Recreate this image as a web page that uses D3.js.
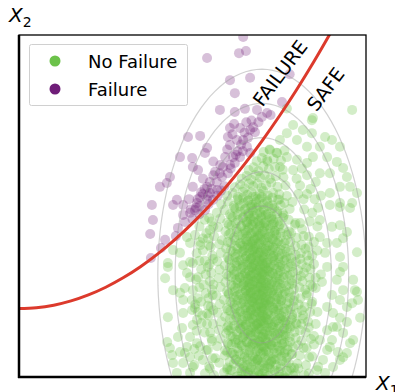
<!DOCTYPE html>
<html><head><meta charset="utf-8">
<script src="https://cdn.jsdelivr.net/npm/d3@7"></script>
<style>html,body{margin:0;padding:0;background:#fff;}svg{display:block;font-family:"DejaVu Sans",sans-serif;}</style>
</head><body><svg id="chart" width="395" height="392"></svg>
<script>
// Samples in the safe region (X1, X2): dense core of the cloud
const safeCore = [
[5.88,-0.1],[6.18,-0.2],[6.36,-0.06],[6.52,-0.17],[6.71,-0.11],[6.86,-0.22],[6.99,-0.08],[7.13,-0.15],[7.29,-0.19],[7.44,-0.09],[7.62,-0.04],[7.83,-0.16],[8.08,-0.12],[6.95,-0.02],
[5.62,0.05],[5.91,0.13],[6.08,0.2],[6.27,0.01],[6.41,0.16],[6.53,0.08],[6.66,0.22],[6.77,0.03],[6.9,0.17],[7.01,0.1],[7.11,0.0],[7.24,0.24],[7.36,0.07],[7.49,0.15],[7.63,0.02],[7.79,0.19],[7.96,0.11],[8.22,0.06],[6.6,0.12],[7.07,0.25],
[5.48,0.31],[5.77,0.42],[6.01,0.28],[6.19,0.39],[6.34,0.45],[6.47,0.3],[6.58,0.36],[6.7,0.27],[6.83,0.44],[6.94,0.33],[7.04,0.41],[7.16,0.29],[7.28,0.47],[7.41,0.35],[7.54,0.31],[7.69,0.43],[7.84,0.26],[8.02,0.39],[8.27,0.34],[6.88,0.49],[7.21,0.37],[6.43,0.24],
[5.66,0.55],[5.93,0.63],[6.1,0.7],[6.24,0.52],[6.37,0.66],[6.5,0.58],[6.63,0.72],[6.74,0.6],[6.86,0.5],[6.97,0.68],[7.09,0.57],[7.19,0.64],[7.31,0.53],[7.44,0.71],[7.57,0.6],[7.71,0.56],[7.87,0.67],[8.09,0.63],[8.36,0.58],[6.57,0.49],[7.03,0.74],[7.37,0.51],[6.2,0.65],[7.64,0.69],
[5.44,0.8],[5.71,0.9],[5.94,0.78],[6.13,0.95],[6.29,0.84],[6.41,0.92],[6.54,0.79],[6.67,0.88],[6.79,0.97],[6.91,0.83],[7.0,0.9],[7.12,0.76],[7.24,0.94],[7.34,0.82],[7.47,0.89],[7.59,0.96],[7.74,0.8],[7.89,0.87],[8.04,0.93],[8.29,0.85],[6.61,0.99],[6.84,0.75],[7.07,0.86],[7.29,0.91],[6.34,0.98],[7.54,0.77],
[5.56,1.05],[5.81,1.12],[6.02,1.0],[6.16,1.18],[6.31,1.08],[6.44,1.15],[6.56,1.02],[6.69,1.2],[6.81,1.1],[6.93,1.04],[7.01,1.16],[7.11,1.07],[7.21,1.22],[7.32,1.01],[7.44,1.13],[7.56,1.09],[7.69,1.19],[7.81,1.03],[7.97,1.14],[8.14,1.06],[8.41,1.11],[6.49,1.23],[6.74,0.98],[6.96,1.17],[7.17,1.02],[7.39,1.21],[6.23,1.1],[7.64,1.0],
[5.51,1.3],[5.76,1.38],[5.97,1.28],[6.11,1.42],[6.26,1.33],[6.39,1.4],[6.51,1.27],[6.61,1.36],[6.73,1.45],[6.82,1.31],[6.94,1.39],[7.04,1.26],[7.14,1.44],[7.23,1.34],[7.36,1.29],[7.45,1.41],[7.59,1.35],[7.67,1.25],[7.81,1.43],[7.94,1.32],[8.09,1.37],[8.26,1.3],[6.46,1.47],[6.67,1.24],[6.87,1.4],[7.09,1.33],[7.31,1.46],[7.51,1.28],[6.04,1.36],[7.73,1.42],
[5.59,1.55],[5.83,1.62],[6.03,1.5],[6.19,1.66],[6.33,1.58],[6.44,1.64],[6.54,1.52],[6.66,1.6],[6.75,1.69],[6.87,1.54],[6.96,1.63],[7.06,1.57],[7.16,1.67],[7.27,1.51],[7.38,1.61],[7.49,1.56],[7.61,1.65],[7.72,1.53],[7.85,1.68],[7.98,1.59],[8.13,1.55],[8.33,1.62],[6.59,1.7],[6.8,1.49],[6.99,1.64],[7.19,1.57],[7.43,1.66],[6.39,1.52],[6.91,1.58],[7.11,1.71],[7.66,1.6],
[5.47,1.8],[5.73,1.88],[5.94,1.76],[6.09,1.92],[6.21,1.83],[6.36,1.9],[6.46,1.78],[6.58,1.86],[6.68,1.94],[6.78,1.81],[6.86,1.89],[6.97,1.77],[7.05,1.93],[7.17,1.84],[7.26,1.79],[7.39,1.91],[7.5,1.85],[7.63,1.75],[7.75,1.95],[7.87,1.82],[8.01,1.87],[8.19,1.8],[8.39,1.9],[6.53,1.96],[6.71,1.74],[6.92,1.88],[7.13,1.83],[7.34,1.97],[7.56,1.78],[6.29,1.86],[6.83,1.92],[7.02,1.81],
[5.53,2.05],[5.79,2.13],[5.99,2.01],[6.15,2.17],[6.28,2.08],[6.41,2.15],[6.51,2.03],[6.63,2.11],[6.72,2.19],[6.84,2.06],[6.93,2.14],[7.01,2.02],[7.09,2.18],[7.21,2.09],[7.31,2.04],[7.42,2.16],[7.53,2.1],[7.65,2.0],[7.77,2.2],[7.91,2.07],[8.06,2.12],[8.23,2.05],[8.43,2.14],[6.48,2.21],[6.67,1.99],[6.89,2.13],[7.06,2.08],[7.26,2.22],[7.47,2.03],[6.21,2.11],[6.77,2.17],[6.98,2.06],[7.14,2.12],
[5.46,2.3],[5.69,2.38],[5.91,2.26],[6.05,2.42],[6.19,2.33],[6.32,2.4],[6.44,2.28],[6.55,2.36],[6.65,2.44],[6.75,2.31],[6.85,2.39],[6.94,2.27],[7.03,2.43],[7.13,2.34],[7.23,2.29],[7.34,2.41],[7.45,2.35],[7.56,2.25],[7.68,2.45],[7.8,2.32],[7.94,2.37],[8.11,2.3],[8.29,2.39],[6.5,2.46],[6.7,2.24],[6.9,2.38],[7.08,2.33],[7.28,2.47],[7.5,2.28],[6.26,2.36],[6.6,2.42],[6.8,2.31],[7.0,2.37],[7.19,2.26],
[5.56,2.55],[5.81,2.63],[6.0,2.51],[6.17,2.67],[6.3,2.58],[6.42,2.65],[6.53,2.53],[6.63,2.61],[6.73,2.69],[6.84,2.56],[6.92,2.64],[7.02,2.52],[7.11,2.68],[7.22,2.59],[7.32,2.54],[7.43,2.66],[7.55,2.6],[7.66,2.5],[7.79,2.7],[7.92,2.57],[8.08,2.62],[8.25,2.55],[8.46,2.64],[6.47,2.71],[6.68,2.49],[6.88,2.63],[7.06,2.58],[7.27,2.72],[7.48,2.53],[6.23,2.61],[6.58,2.67],[6.79,2.56],[6.97,2.62],[7.17,2.51],
[5.5,2.8],[5.75,2.89],[5.95,2.77],[6.12,2.92],[6.25,2.83],[6.37,2.9],[6.49,2.78],[6.6,2.87],[6.7,2.95],[6.81,2.81],[6.9,2.88],[6.99,2.76],[7.08,2.94],[7.18,2.84],[7.29,2.79],[7.4,2.91],[7.51,2.85],[7.62,2.74],[7.74,2.96],[7.86,2.82],[8.01,2.87],[8.17,2.8],[8.37,2.9],[6.44,2.97],[6.64,2.73],[6.85,2.89],[7.03,2.83],[7.23,2.98],[7.45,2.78],[6.29,2.86],[6.55,2.93],[6.76,2.8],[6.95,2.86],[7.14,2.75],
[5.54,3.05],[5.78,3.14],[5.98,3.01],[6.14,3.17],[6.27,3.08],[6.4,3.15],[6.52,3.03],[6.62,3.11],[6.71,3.2],[6.82,3.06],[6.91,3.13],[7.0,3.02],[7.1,3.18],[7.2,3.09],[7.3,3.04],[7.41,3.16],[7.53,3.1],[7.64,3.0],[7.77,3.21],[7.9,3.07],[8.04,3.12],[8.21,3.05],[8.4,3.15],[6.46,3.22],[6.66,2.99],[6.87,3.13],[7.05,3.08],[7.25,3.23],[7.47,3.03],[6.19,3.11],[6.76,3.17],[6.96,3.06],[7.15,3.12],
[5.49,3.3],[5.72,3.38],[5.93,3.26],[6.07,3.42],[6.22,3.33],[6.34,3.4],[6.45,3.28],[6.57,3.36],[6.67,3.44],[6.77,3.31],[6.87,3.39],[6.96,3.27],[7.05,3.43],[7.15,3.34],[7.25,3.29],[7.36,3.41],[7.48,3.35],[7.59,3.25],[7.71,3.45],[7.84,3.32],[7.98,3.37],[8.15,3.3],[8.34,3.4],[6.51,3.46],[6.72,3.24],[6.92,3.38],[7.11,3.33],[7.31,3.47],[7.53,3.28],[6.28,3.36],[6.82,3.42],[7.01,3.31],
[5.57,3.55],[5.82,3.63],[6.01,3.51],[6.16,3.67],[6.3,3.58],[6.43,3.65],[6.54,3.53],[6.64,3.61],[6.74,3.69],[6.85,3.56],[6.94,3.64],[7.03,3.52],[7.13,3.68],[7.23,3.59],[7.34,3.54],[7.46,3.66],[7.58,3.6],[7.7,3.5],[7.83,3.7],[7.97,3.57],[8.12,3.62],[8.3,3.55],[6.49,3.71],[6.69,3.49],[6.89,3.63],[7.08,3.58],[7.29,3.72],[7.5,3.53],[6.24,3.61],[6.79,3.66],
[5.52,3.8],[5.77,3.88],[5.97,3.76],[6.11,3.92],[6.25,3.83],[6.38,3.9],[6.5,3.78],[6.61,3.86],[6.71,3.94],[6.81,3.81],[6.91,3.89],[7.0,3.77],[7.1,3.93],[7.21,3.84],[7.32,3.79],[7.43,3.91],[7.56,3.85],[7.68,3.75],[7.82,3.95],[7.96,3.82],[8.14,3.87],[8.35,3.8],[6.56,3.96],[6.76,3.74],[6.96,3.88],[7.16,3.83],[7.38,3.97],[6.44,3.84],
[5.45,4.05],[5.62,4.12],[5.85,4.0],[6.04,4.16],[6.2,4.08],[6.33,4.15],[6.46,4.03],[6.58,4.11],[6.68,4.19],[6.79,4.06],[6.89,4.14],[6.98,4.02],[7.08,4.18],[7.19,4.09],[7.3,4.04],[7.42,4.16],[7.55,4.1],[7.69,4.0],[7.84,4.2],[8.0,4.07],[8.2,4.12],[6.53,4.21],[6.74,3.99],[6.94,4.13],[7.14,4.08],[7.36,4.22],
[5.5,4.3],[5.74,4.38],[5.95,4.26],[6.12,4.42],[6.27,4.33],[6.4,4.4],[6.52,4.28],[6.63,4.36],[6.73,4.44],[6.84,4.31],[6.93,4.39],[7.02,4.27],[7.12,4.43],[7.24,4.34],[7.36,4.29],[7.49,4.41],[7.63,4.35],[7.78,4.25],[7.95,4.45],[8.16,4.32],[6.58,4.47],[6.79,4.24],[7.07,4.38],[7.31,4.46],
[5.55,4.55],[5.8,4.63],[6.0,4.51],[6.16,4.67],[6.31,4.58],[6.45,4.65],[6.57,4.53],[6.68,4.61],[6.78,4.69],[6.89,4.56],[6.99,4.64],[7.09,4.52],[7.2,4.68],[7.33,4.59],[7.46,4.54],[7.61,4.66],[7.77,4.6],[7.97,4.5],[6.62,4.72],[6.94,4.49],[7.27,4.63],
[5.7,4.8],[5.92,4.88],[6.08,4.76],[6.24,4.92],[6.38,4.83],[6.51,4.9],[6.63,4.78],[6.74,4.86],[6.85,4.94],[6.95,4.81],[7.06,4.89],[7.17,4.77],[7.3,4.93],[7.44,4.84],[7.6,4.79],[7.8,4.91],[6.7,4.97],[7.0,4.74],
[5.83,5.05],[6.02,5.13],[6.19,5.01],[6.34,5.17],[6.47,5.08],[6.6,5.15],[6.72,5.03],[6.83,5.11],[6.93,5.19],[7.04,5.06],[7.16,5.14],[7.3,5.02],[7.46,5.18],[7.65,5.09],[7.88,5.12],
[6.0,5.3],[6.16,5.38],[6.31,5.27],[6.45,5.42],[6.58,5.33],[6.7,5.4],[6.82,5.28],[6.93,5.36],[7.04,5.44],[7.17,5.31],[7.32,5.39],[7.5,5.34],[7.72,5.29],
[6.22,5.55],[6.37,5.63],[6.5,5.52],[6.63,5.66],[6.75,5.58],[6.87,5.65],[6.99,5.53],[7.12,5.61],[7.27,5.68],[7.45,5.56],[7.68,5.6],
[6.42,5.8],[6.56,5.88],[6.69,5.77],[6.82,5.91],[6.95,5.83],[7.08,5.9],[7.23,5.79],[7.4,5.87],[7.62,5.84],
[6.62,6.05],[6.76,6.13],[6.9,6.02],[7.04,6.16],[7.2,6.08],[7.38,6.14],[7.6,6.06],
[6.85,6.31],[7.0,6.4],[7.16,6.3],[7.34,6.38],[7.55,6.33],
[7.05,6.58],[7.22,6.65],[7.42,6.56],[7.65,6.62]
];

// Safe samples packed around the centre of the cloud
const safeInner = [
[6.05,-0.03],[6.3,0.02],[6.48,-0.08],[6.63,0.05],[6.78,-0.01],[6.92,0.06],[7.05,-0.05],[7.19,0.03],[7.34,-0.07],[7.5,0.01],[7.68,-0.04],[7.9,0.04],
[6.12,0.2],[6.35,0.26],[6.52,0.17],[6.68,0.29],[6.81,0.21],[6.95,0.24],[7.08,0.15],[7.22,0.28],[7.37,0.19],[7.53,0.25],[7.72,0.18],[6.0,0.23],[7.93,0.27],
[6.07,0.45],[6.26,0.5],[6.44,0.42],[6.59,0.53],[6.73,0.46],[6.87,0.51],[7.0,0.43],[7.14,0.49],[7.27,0.44],[7.42,0.52],[7.58,0.47],[7.77,0.41],[6.8,0.55],
[6.15,0.7],[6.33,0.75],[6.5,0.67],[6.65,0.78],[6.8,0.71],[6.93,0.76],[7.06,0.68],[7.2,0.74],[7.35,0.69],[7.5,0.77],[7.66,0.72],[7.85,0.66],[6.0,0.73],
[6.04,0.95],[6.24,1.0],[6.42,0.92],[6.57,1.03],[6.71,0.96],[6.85,1.01],[6.98,0.93],[7.13,0.99],[7.27,0.94],[7.41,1.02],[7.57,0.97],[7.75,0.91],[6.9,1.05],[7.05,0.89],
[6.1,1.2],[6.29,1.25],[6.46,1.17],[6.6,1.28],[6.76,1.21],[6.89,1.26],[7.03,1.18],[7.16,1.24],[7.3,1.19],[7.46,1.27],[7.62,1.22],[7.8,1.16],[6.68,1.3],[7.1,1.14],
[6.0,1.45],[6.2,1.5],[6.37,1.42],[6.53,1.53],[6.67,1.46],[6.79,1.51],[6.92,1.43],[7.06,1.49],[7.2,1.44],[7.33,1.52],[7.48,1.47],[7.64,1.41],[7.83,1.48],[6.85,1.55],[7.0,1.39],
[6.08,1.7],[6.27,1.75],[6.43,1.67],[6.57,1.78],[6.71,1.71],[6.84,1.76],[6.97,1.68],[7.1,1.74],[7.24,1.69],[7.37,1.77],[7.52,1.72],[7.69,1.66],[7.88,1.73],[6.63,1.8],[7.03,1.64],
[6.02,1.95],[6.23,2.0],[6.39,1.92],[6.55,2.03],[6.69,1.96],[6.81,2.01],[6.94,1.93],[7.07,1.99],[7.19,1.94],[7.33,2.02],[7.47,1.97],[7.63,1.91],[7.82,1.98],[6.75,2.05],[6.99,1.89],
[6.09,2.2],[6.3,2.25],[6.47,2.17],[6.61,2.28],[6.74,2.21],[6.87,2.26],[6.99,2.18],[7.12,2.24],[7.25,2.19],[7.39,2.27],[7.55,2.22],[7.72,2.16],[7.92,2.23],[6.66,2.3],[7.04,2.14],
[6.04,2.45],[6.22,2.5],[6.38,2.42],[6.54,2.53],[6.68,2.46],[6.8,2.51],[6.91,2.43],[7.04,2.49],[7.17,2.44],[7.3,2.52],[7.44,2.47],[7.6,2.41],[7.79,2.48],[6.74,2.55],[6.96,2.39],
[6.11,2.7],[6.31,2.75],[6.46,2.67],[6.6,2.78],[6.72,2.71],[6.86,2.76],[6.98,2.68],[7.1,2.74],[7.24,2.69],[7.37,2.77],[7.52,2.72],[7.7,2.66],[7.88,2.73],[6.66,2.8],[7.04,2.64],
[6.03,2.95],[6.21,3.0],[6.36,2.92],[6.52,3.03],[6.65,2.96],[6.78,3.01],[6.92,2.93],[7.05,2.99],[7.18,2.94],[7.32,3.02],[7.46,2.97],[7.62,2.91],[7.81,2.98],[6.72,3.05],[6.98,2.89],
[6.08,3.2],[6.28,3.25],[6.43,3.17],[6.58,3.28],[6.7,3.21],[6.83,3.26],[6.95,3.18],[7.08,3.24],[7.21,3.19],[7.35,3.27],[7.5,3.22],[7.67,3.16],[7.86,3.23],[6.64,3.3],[7.02,3.14],
[6.05,3.45],[6.24,3.5],[6.4,3.42],[6.55,3.53],[6.68,3.46],[6.8,3.51],[6.93,3.43],[7.06,3.49],[7.19,3.44],[7.33,3.52],[7.47,3.47],[7.64,3.41],[7.83,3.48],[6.74,3.55],[6.99,3.39],
[6.1,3.7],[6.3,3.75],[6.46,3.67],[6.6,3.78],[6.73,3.71],[6.86,3.76],[6.98,3.68],[7.11,3.74],[7.25,3.69],[7.39,3.77],[7.54,3.72],[7.72,3.66],[6.66,3.8],[7.04,3.64],
[6.02,3.95],[6.22,4.0],[6.38,3.92],[6.53,4.03],[6.66,3.96],[6.79,4.01],[6.92,3.93],[7.05,3.99],[7.18,3.94],[7.32,4.02],[7.47,3.97],[7.65,3.91],[6.86,4.05],[6.72,3.89],
[6.09,4.2],[6.28,4.25],[6.44,4.17],[6.58,4.28],[6.71,4.21],[6.84,4.26],[6.96,4.18],[7.09,4.24],[7.23,4.19],[7.38,4.27],[7.54,4.22],[7.73,4.16],
[6.05,4.45],[6.24,4.5],[6.4,4.42],[6.55,4.53],[6.68,4.46],[6.81,4.51],[6.93,4.43],[7.06,4.49],[7.2,4.44],[7.35,4.52],[7.52,4.47],[6.75,4.55],
[6.12,4.7],[6.3,4.75],[6.46,4.67],[6.6,4.78],[6.73,4.71],[6.86,4.76],[6.98,4.68],[7.12,4.74],[7.27,4.69],[7.44,4.77],[7.63,4.72],
[6.2,4.95],[6.37,5.0],[6.52,4.92],[6.66,5.03],[6.79,4.96],[6.92,5.01],[7.05,4.93],[7.19,4.99],[7.35,4.94],[7.54,5.02],
[6.3,5.2],[6.46,5.25],[6.6,5.17],[6.74,5.28],[6.87,5.21],[7.0,5.26],[7.14,5.18],[7.3,5.24],[7.5,5.19]
];

// Safe samples on the flanks of the core
const safeFlank = [
[5.05,0.35],[5.18,0.62],[5.4,0.78],[5.12,1.35],[5.55,1.12],[5.26,1.58],[5.6,1.95],[5.08,2.12],[5.45,2.08],[5.2,2.62],[5.58,2.4],[5.1,2.85],[5.44,3.22],[5.25,3.15],[5.6,3.45],[5.12,3.62],[5.48,3.85],[5.3,4.05],[5.6,4.4],[5.35,4.6],[5.05,0.82],[5.5,0.25],[5.15,1.9],[5.6,2.7],[5.22,3.85],[5.42,1.85],[5.58,0.55],[5.35,3.4],[4.98,2.25],[5.48,4.65],
[8.05,0.25],[8.2,0.85],[8.35,1.45],[8.15,1.95],[8.3,2.45],[8.12,2.95],[8.45,3.55],[8.25,3.75],[8.1,4.5],[8.38,4.55],[8.22,4.9],[8.05,5.35],[8.5,0.95],[8.35,0.1],[8.18,1.7],[8.55,2.9],[8.28,3.2],[8.62,4.95],[8.1,3.45],[8.4,2.7],[8.0,1.55],[8.5,3.95],[8.3,5.35],[8.7,5.3],[8.15,6.1]
];

// Samples in the safe region: sparse fringe of the cloud
const safeOuter = [
[8.47,7.57],[8.18,7.22],[7.72,7.13],[7.52,6.93],[8.01,6.93],[8.44,7.13],[8.82,7.02],[9.02,6.93],[9.25,6.73],[8.3,6.73],[8.67,6.73],[8.47,6.43],[8.88,6.43],[9.16,6.29],[9.34,6.11],[9.45,5.85],[8.96,5.96],[8.67,5.96],[8.3,6.26],[8.01,6.35],[7.72,6.43],[7.44,6.55],[7.23,6.64],[7.15,6.35],[7.52,6.14],[7.9,6.05],[9.25,5.56],[9.54,5.56],[9.74,5.38],[9.6,5.09],[9.25,5.09],[8.96,5.38],[9.6,7.81],[7.72,7.85],[7.9,7.37],[8.44,7.51],
[8.96,5.03],[9.25,4.97],[9.54,4.94],[8.67,4.59],[9.02,4.39],[9.25,4.44],[9.45,4.24],[8.67,4.09],[8.88,3.92],[9.16,3.92],[9.34,4.06],[9.74,3.65],[9.25,3.51],[8.82,3.63],[8.88,3.22],[9.25,3.07],[9.63,2.84],[9.16,2.84],[8.73,2.78],[9.34,2.54],[9.68,2.54],[9.02,2.4],[9.25,2.25],[8.88,2.05],[9.45,2.05],[9.77,2.25],[9.05,1.87],[9.25,1.73],[9.83,1.73],[9.45,1.61],[9.16,1.46],[8.88,1.37],[9.34,1.29],[9.02,1.08],[8.67,1.08],[8.88,0.79],[9.19,0.73],[9.54,0.99],[8.76,0.5],[9.05,0.29],[9.34,0.58],[8.59,0.2],[8.82,0.12],[9.63,1.08],[9.45,0.7],[9.6,2.16],[9.74,2.49],[9.34,3.22],[9.05,1.46],[8.96,0.88],[9.25,0.5],
[8.5,3.3],[8.55,2.6],[8.6,1.9],[8.5,1.2],[8.45,0.6],[8.6,4.4],[8.52,5.2],[8.7,3.0],[8.62,0.3],[8.55,5.7],[8.4,5.5],[8.3,5.9],[8.1,5.6],[8.2,5.2],[8.0,5.8],[8.45,4.8],[8.35,4.1],[8.6,3.7],[8.45,2.2],[8.55,1.55],
[4.21,2.89],[4.44,2.54],[4.84,4.09],[4.93,3.92],[5.07,4.15],[5.22,3.95],[4.44,3.71],[4.64,3.63],[4.29,3.33],[4.73,3.27],[5.01,3.33],[4.93,2.92],[5.16,2.92],[4.78,2.6],[5.01,2.54],[4.73,2.25],[4.29,1.75],[4.73,1.87],[4.99,1.96],[5.01,1.52],[5.13,1.67],[4.27,1.02],[4.58,1.17],[4.93,1.17],[4.84,0.88],[5.13,0.99],[4.41,0.64],[4.64,0.73],[4.93,0.58],[4.44,0.41],[4.73,0.41],[5.01,0.29],[4.55,0.12],[4.93,0.12],[4.29,3.22],[4.64,2.46],[4.7,1.43],[4.35,0.85],[4.78,0.7],[5.07,2.02],[4.84,3.04],[4.93,3.36],
[5.3,0.5],[5.35,1.3],[5.25,2.2],[5.38,3.0],[5.3,3.7],[5.4,4.2],[5.28,1.8],[5.32,2.7],[5.22,0.9],[5.36,0.1],[5.2,3.4],[5.42,1.55],[5.38,2.45],[5.15,2.3],[5.2,4.4]
];

// Samples in the failure region
const failurePts = [
[6.46,9.94],[6.34,9.47],[6.54,9.53],[5.42,9.33],[6.08,8.68],[6.66,8.75],[6.22,8.3],[5.79,7.81],[6.22,7.75],[6.51,7.84],[6.86,7.81],[7.15,7.72],[7.25,7.66],[7.58,8.04],[7.8,8.85],
[6.08,7.28],[6.37,7.28],[6.66,7.22],[6.8,7.16],[4.87,7.02],[5.22,7.05],[6.02,7.02],[6.08,6.78],[6.28,6.93],[6.46,6.93],[6.57,6.73],[5.42,6.7],[5.36,6.55],[5.94,6.43],[6.17,6.43],[6.37,6.43],[6.66,6.55],
[4.64,6.43],[4.99,6.4],[5.01,6.14],[5.88,6.14],[6.08,6.2],[6.22,6.26],[5.79,5.96],[6.02,5.96],[4.35,5.85],[4.26,5.67],[4.06,5.56],[5.16,6.05],[5.01,5.56],[5.42,5.56],[5.5,5.38],[5.71,5.47],[5.72,5.3],
[5.22,5.26],[5.42,5.18],[5.13,5.09],[3.83,5.03],[4.44,5.03],[4.55,5.18],[4.73,5.03],[4.73,4.74],[4.93,4.8],[5.07,4.88],[5.2,4.76],[5.36,4.88],[5.46,5.05],[5.59,5.18],[5.82,5.45],[5.92,5.58],
[4.58,4.36],[3.86,4.59],[3.8,3.48],[3.78,4.18],[4.09,3.77],[4.78,4.53],[5.0,4.62],[4.52,4.12],[4.21,4.01],
[6.15,7.1],[6.3,6.6],[6.45,6.6],[6.0,6.65],[5.6,5.9],[5.5,5.7],[5.35,5.5],[5.25,5.4],[5.6,6.3],[5.3,5.8],[6.55,7.45],[6.7,7.5],[6.9,7.45],[5.1,4.95],[5.2,5.0],[4.9,5.2],[5.65,6.0],[6.2,7.4],
[5.45,5.3],[5.55,5.5],[5.7,5.7],[5.85,5.85],[6.1,6.1],[6.25,6.5],[6.4,6.8],[6.6,7.0],[6.75,7.3],[7.0,7.6],[5.15,5.2],[5.3,5.35],[4.95,4.9],[5.8,6.2],[6.5,7.15]
];

// Limit-state boundary X2 = g(X1), read at half-unit steps
const limitX1 = [0,0.5,1,1.5,2,2.5,3,3.5,4,4.5,5,5.5,6,6.5,7,7.5,8,8.5,9];
const limitX2 = [2,2.025,2.1,2.225,2.4,2.625,2.9,3.225,3.6,4.025,4.5,5.025,5.6,6.225,6.9,7.625,8.4,9.225,10.1];

// Density contours of the input distribution (in standard deviations)
const contourLevels = [2,3,4,5,6];
const meanX1 = 7, meanX2 = 3, sdX1 = 0.5, sdX2 = 1;

const legendItems = ["No Failure", "Failure"];
const regionNames = ["FAILURE", "SAFE"];

const GREEN = "#6cc24a", PURPLE = "#6f1d78", RED = "#dc3a2c";

const svg = d3.select("#chart");
const plotL = 19, plotR = 366, plotT = 35, plotB = 377;
const x = d3.scaleLinear().domain([0, 10]).range([plotL, plotR]);
const y = d3.scaleLinear().domain([0, 10]).range([plotB, plotT]);

svg.append("defs").append("clipPath").attr("id", "plotClip")
  .append("rect").attr("x", plotL).attr("y", plotT).attr("width", plotR - plotL).attr("height", plotB - plotT);

const plot = svg.append("g").attr("clip-path", "url(#plotClip)");

plot.append("g").selectAll("circle").data(safeCore.concat(safeInner, safeFlank, safeOuter)).join("circle")
  .attr("cx", d => x(d[0])).attr("cy", d => y(d[1])).attr("r", 5)
  .attr("fill", GREEN).attr("fill-opacity", 0.3);

plot.append("g").selectAll("circle").data(failurePts).join("circle")
  .attr("cx", d => x(d[0])).attr("cy", d => y(d[1])).attr("r", 5)
  .attr("fill", PURPLE).attr("fill-opacity", 0.28);

// Elliptical contours
const angles = d3.range(0, 360, 3).map(a => a * Math.PI / 180);
const ring = d3.line().curve(d3.curveLinearClosed);
plot.append("g").selectAll("path").data(contourLevels).join("path")
  .attr("d", k => ring(angles.map(t => [x(meanX1 + k * sdX1 * Math.cos(t)), y(meanX2 + k * sdX2 * Math.sin(t))])))
  .attr("fill", "none").attr("stroke", "#999").attr("stroke-opacity", 0.45).attr("stroke-width", 1.2);

// Limit-state curve
const boundary = d3.line().x(d => x(d[0])).y(d => y(d[1])).curve(d3.curveCatmullRom);
plot.append("path").attr("d", boundary(limitX1.map((v, i) => [v, limitX2[i]])))
  .attr("fill", "none").attr("stroke", RED).attr("stroke-width", 3);

// Region names along the boundary
const regionPos = [[7.52, 8.89], [8.83, 8.42]];
svg.append("g").selectAll("text").data(regionNames).join("text")
  .attr("transform", (d, i) => `translate(${x(regionPos[i][0])},${y(regionPos[i][1])}) rotate(-53)`)
  .attr("text-anchor", "middle").attr("dominant-baseline", "central")
  .attr("font-size", 19).attr("fill", "#000").text(d => d);

// Frame
svg.append("rect").attr("x", plotL).attr("y", plotT).attr("width", plotR - plotL).attr("height", plotB - plotT)
  .attr("fill", "none").attr("stroke", "#000").attr("stroke-width", 1.3);
svg.append("line").attr("x1", plotL).attr("x2", plotL).attr("y1", plotT).attr("y2", plotB + 1)
  .attr("stroke", "#000").attr("stroke-width", 2.5);
svg.append("line").attr("x1", plotL - 1).attr("x2", plotR).attr("y1", plotB).attr("y2", plotB)
  .attr("stroke", "#000").attr("stroke-width", 2.5);

// Axis titles
function axisTitle(px, py, sub) {
  const t = svg.append("text").attr("x", px).attr("y", py).attr("font-size", 20).attr("fill", "#000");
  t.append("tspan").attr("font-style", "italic").text("X");
  t.append("tspan").attr("font-size", 14).attr("dy", 5).text(sub);
}
axisTitle(9, 22, "2");
axisTitle(376, 390, "1");

// Legend
const lg = svg.append("g");
lg.append("rect").attr("x", 29.5).attr("y", 44.5).attr("width", 158).attr("height", 61).attr("rx", 2)
  .attr("fill", "#fff").attr("fill-opacity", 0.85).attr("stroke", "#d0d0d0").attr("stroke-width", 1);
const legendColors = [GREEN, PURPLE];
legendItems.forEach((label, i) => {
  const cy = 61 + i * 28;
  lg.append("circle").attr("cx", 55).attr("cy", cy).attr("r", 5.5).attr("fill", legendColors[i]);
  lg.append("text").attr("x", 88).attr("y", cy + 6.5).attr("font-size", 18).attr("fill", "#000").text(label);
});
</script></body></html>
